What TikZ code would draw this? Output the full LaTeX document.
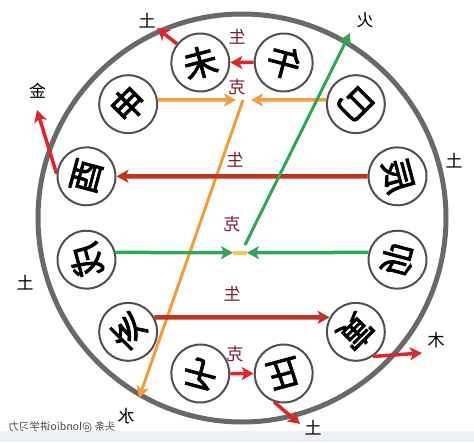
\documentclass[tikz,border=0pt]{standalone}
\usepackage{fontspec}
\usepackage{graphicx}
\usetikzlibrary{arrows.meta}
\newfontfamily\cjk{Noto Sans CJK SC}
\newfontfamily\cjkheavy{Noto Sans CJK SC}[FakeBold=2.5]
\newcommand{\mirtxt}[1]{\reflectbox{#1}}
\definecolor{ringgray}{RGB}{105,105,105}
\definecolor{nodegray}{RGB}{80,80,80}
\definecolor{arrred}{RGB}{222,38,44}
\definecolor{linered}{RGB}{196,50,32}
\definecolor{arrorange}{RGB}{242,158,62}
\definecolor{arrgreen}{RGB}{48,168,82}
\definecolor{patchyellow}{RGB}{240,205,70}
\definecolor{labelred}{RGB}{125,28,48}
\definecolor{bandgray}{RGB}{237,241,246}
\definecolor{wmgray}{RGB}{70,70,70}
\begin{document}
\begin{tikzpicture}[x=1pt,y=1pt,
  branch/.style={circle,draw=nodegray,line width=2pt,fill=white,minimum size=58pt,inner sep=0pt,
    font=\cjkheavy\fontsize{34}{34}\selectfont},
  rel/.style={font=\cjk\fontsize{17}{17}\selectfont,text=labelred,inner sep=0pt},
  elem/.style={font=\cjk\fontsize{17}{17}\selectfont,text=black,inner sep=0pt},
  harr/.style={-{Stealth[length=12pt,width=13pt,inset=3pt]}},
  redarr/.style={harr,draw=arrred,line width=3.5pt},
  darkarr/.style={harr,draw=linered,line width=4.5pt},
  orangearr/.style={harr,draw=arrorange,line width=3.5pt},
  greenarr/.style={harr,draw=arrgreen,line width=3.5pt}
]
\useasboundingbox (0,0) rectangle (474,-442);
\fill[white] (0,0) rectangle (474,-442);
\fill[bandgray] (0,-431) rectangle (474,-442);

\coordinate (C) at (242,-218);
\draw[ringgray,line width=5pt] (C) circle[radius=204];

% branch nodes (anchors below are given in each node's rotated frame)
\node[branch,rotate=15]   (wei)  at ([shift={(105:161)}]C)  {\mirtxt{未}};
\node[branch,rotate=-15]  (wu)   at ([shift={(75:161)}]C)   {\mirtxt{午}};
\node[branch,rotate=-45]  (si)   at ([shift={(45:161)}]C)   {\mirtxt{巳}};
\node[branch,rotate=-75]  (chen) at ([shift={(15:161)}]C)   {\mirtxt{辰}};
\node[branch,rotate=-105] (mao)  at ([shift={(-15:161)}]C)  {\mirtxt{卯}};
\node[branch,rotate=-135] (yin)  at ([shift={(-45:161)}]C)  {\mirtxt{寅}};
\node[branch,rotate=-165] (chou) at ([shift={(-75:161)}]C)  {\mirtxt{丑}};
\node[branch,rotate=165]  (zi)   at ([shift={(-105:161)}]C) {\mirtxt{子}};
\node[branch,rotate=135]  (hai)  at ([shift={(-135:161)}]C) {\mirtxt{亥}};
\node[branch,rotate=105]  (xu)   at ([shift={(-165:161)}]C) {\mirtxt{戌}};
\node[branch,rotate=75]   (you)  at ([shift={(165:161)}]C)  {\mirtxt{酉}};
\node[branch,rotate=45]   (shen) at ([shift={(135:161)}]C)  {\mirtxt{申}};

% helper coordinates
\coordinate (mSL) at (236,-100);
\coordinate (mSR) at (251,-100);
\coordinate (oStart) at (243,-100);
\coordinate (shuiTip) at (139,-398);
\coordinate (mGL) at (233,-252.7);
\coordinate (mGR) at (247,-252.7);
\coordinate (gStart) at (245,-245);
\coordinate (huoTip) at (350,-33);
\coordinate (tuTipA) at (157,-28);
\coordinate (jinTip) at (37,-110);
\coordinate (muTip) at (422,-353);
\coordinate (tuTipB) at (300,-424);

% connectors
\draw[redarr] (wu) -- (wei);
\draw[orangearr] (shen.-37) -- (mSL);
\draw[orangearr] (si.217) -- (mSR);
\draw[orangearr,line width=3pt] (oStart) -- (shuiTip);
\draw[darkarr] (chen) -- (you);
\draw[patchyellow,line width=4pt] (mGL) -- (mGR);
\draw[greenarr] (xu.-91) -- (mGL);
\draw[greenarr] (mao.271) -- (mGR);
\draw[greenarr,line width=3pt] (gStart) -- (huoTip);
\draw[darkarr] (hai.-106) -- (yin.286);
\draw[redarr] (zi) -- (chou);

\draw[redarr] (wei) -- (tuTipA);
\draw[redarr] (you.100) -- (jinTip);
\draw[redarr] (yin.80) -- (muTip);
\draw[redarr] (chou.56) -- (tuTipB);

% relation labels
\node[rel] (r1) at (237,-37)  {\mirtxt{生}};
\node[rel] (r2) at (237,-87)  {\mirtxt{克}};
\node[rel] (r3) at (235,-160) {\mirtxt{生}};
\node[rel] (r4) at (232,-224) {\mirtxt{克}};
\node[rel] (r5) at (232,-294) {\mirtxt{生}};
\node[rel] (r6) at (235,-354) {\mirtxt{克}};

% element labels
\node[elem] (e1) at (147,-21)  {\mirtxt{土}};
\node[elem] (e2) at (37.5,-91) {\mirtxt{金}};
\node[elem] (e3) at (365,-20)  {\mirtxt{火}};
\node[elem] (e4) at (454,-161) {\mirtxt{土}};
\node[elem] (e5) at (25,-283)  {\mirtxt{土}};
\node[elem] (e6) at (436,-340) {\mirtxt{木}};
\node[elem] (e7) at (313,-428) {\mirtxt{土}};
\node[elem] (e8) at (126,-416) {\mirtxt{水}};

% watermark
\node[font=\cjk\fontsize{10.5}{10.5}\selectfont,text=wmgray,inner sep=0pt] (wm) at (62,-427)
  {\mirtxt{头条 @londio讲学习力}};
\end{tikzpicture}
\end{document}
